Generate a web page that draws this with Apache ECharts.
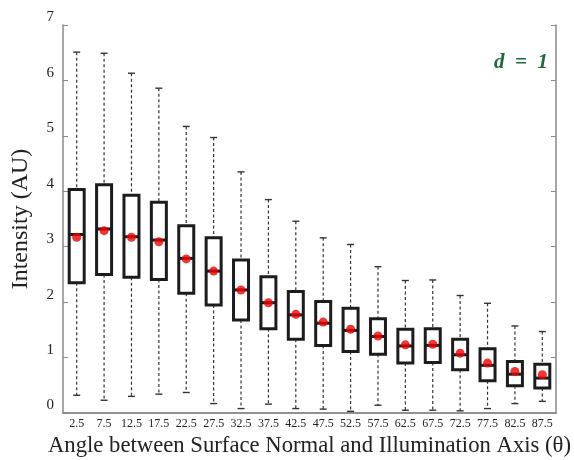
<!DOCTYPE html>
<html>
<head>
<meta charset="utf-8">
<script src="https://cdn.jsdelivr.net/npm/echarts@6/dist/echarts.min.js"></script>
<style>
  html, body { margin: 0; padding: 0; background: #fff; }
  #main { width: 574px; height: 460px; }
</style>
</head>
<body>
<div id="main"></div>
<script>
// angle bins (degrees)
const categories = ['2.5', '7.5', '12.5', '17.5', '22.5', '27.5', '32.5', '37.5', '42.5',
  '47.5', '52.5', '57.5', '62.5', '67.5', '72.5', '77.5', '82.5', '87.5'];
const whiskerLow = [0.32, 0.23, 0.30, 0.34, 0.37, 0.17, 0.08, 0.16, 0.08,
  0.07, 0.03, 0.14, 0.05, 0.05, 0.04, 0.08, 0.17, 0.21];
const q1 = [2.35, 2.50, 2.45, 2.41, 2.16, 1.95, 1.68, 1.52, 1.33,
  1.22, 1.11, 1.06, 0.90, 0.91, 0.78, 0.58, 0.49, 0.45];
const median = [3.22, 3.32, 3.18, 3.12, 2.79, 2.56, 2.22, 1.99, 1.77,
  1.62, 1.49, 1.38, 1.21, 1.22, 1.05, 0.86, 0.70, 0.63];
const q3 = [4.03, 4.12, 3.93, 3.80, 3.38, 3.16, 2.76, 2.46, 2.19,
  2.01, 1.89, 1.70, 1.51, 1.52, 1.33, 1.16, 0.93, 0.88];
const whiskerHigh = [6.51, 6.49, 6.13, 5.86, 5.17, 4.97, 4.35, 3.85, 3.46,
  3.16, 3.04, 2.64, 2.39, 2.40, 2.12, 1.98, 1.57, 1.47];
const means = [3.17, 3.29, 3.17, 3.09, 2.78, 2.56, 2.22, 1.99, 1.78,
  1.64, 1.51, 1.39, 1.23, 1.24, 1.08, 0.90, 0.75, 0.69];
const yTicks = [0, 1, 2, 3, 4, 5, 6, 7];

const serif = '"Liberation Serif", "DejaVu Serif", serif';
const axisGray = '#8a8a8a';

const boxData = categories.map((c, i) =>
  [i, whiskerLow[i], q1[i], median[i], q3[i], whiskerHigh[i]]);
const meanData = categories.map((c, i) => [i, means[i]]);

const renderBox = (params, api) => {
  const idx = api.value(0);
  const pLow = api.coord([idx, api.value(1)]);
  const pQ1 = api.coord([idx, api.value(2)]);
  const pMed = api.coord([idx, api.value(3)]);
  const pQ3 = api.coord([idx, api.value(4)]);
  const pHigh = api.coord([idx, api.value(5)]);
  const x = pMed[0];
  const half = 7.5;
  const cap = 3.5;
  const dash = { stroke: '#333', lineWidth: 1.2, lineDash: [3, 2.5] };
  const capStyle = { stroke: '#333', lineWidth: 1.4 };
  return {
    type: 'group',
    children: [
      { type: 'line', shape: { x1: x, y1: pHigh[1], x2: x, y2: pQ3[1] }, style: dash },
      { type: 'line', shape: { x1: x, y1: pQ1[1], x2: x, y2: pLow[1] }, style: dash },
      { type: 'line', shape: { x1: x - cap, y1: pHigh[1], x2: x + cap, y2: pHigh[1] }, style: capStyle },
      { type: 'line', shape: { x1: x - cap, y1: pLow[1], x2: x + cap, y2: pLow[1] }, style: capStyle },
      {
        type: 'rect',
        shape: { x: x - half, y: pQ3[1], width: half * 2, height: pQ1[1] - pQ3[1] },
        style: { fill: '#fff', stroke: '#1c1c1c', lineWidth: 3 },
      },
      {
        type: 'line',
        shape: { x1: x - half, y1: pMed[1], x2: x + half, y2: pMed[1] },
        style: { stroke: '#1c1c1c', lineWidth: 3 },
      },
    ],
  };
};

const chart = echarts.init(document.getElementById('main'));
chart.setOption({
  animation: false,
  backgroundColor: '#fff',
  grid: { left: 63, right: 18, top: 25, bottom: 47, outerBoundsMode: 'none', containLabel: false },
  xAxis: [
    {
      type: 'category',
      data: categories,
      position: 'bottom',
      axisLine: { lineStyle: { color: axisGray, width: 1.5 } },
      axisTick: { inside: true, alignWithLabel: true, length: 5, lineStyle: { color: axisGray } },
      axisLabel: { color: '#222', fontFamily: serif, fontSize: 12, margin: 5, interval: 0 },
      splitLine: { show: false },
      name: 'Angle between Surface Normal and Illumination Axis (θ)',
      nameLocation: 'middle',
      nameGap: 21,
      nameTextStyle: { color: '#222', fontFamily: serif, fontSize: 22.7 },
    },
    {
      type: 'category',
      data: categories,
      position: 'top',
      axisLine: { lineStyle: { color: axisGray, width: 1.5 } },
      axisTick: { inside: true, alignWithLabel: true, length: 5, lineStyle: { color: axisGray } },
      axisLabel: { show: false },
    },
  ],
  yAxis: [
    {
      type: 'value',
      min: 0,
      max: 7,
      interval: 1,
      position: 'left',
      axisLine: { show: true, lineStyle: { color: axisGray, width: 1.5 } },
      axisTick: { show: true, inside: true, length: 5, lineStyle: { color: axisGray } },
      axisLabel: {
        color: '#222', fontFamily: serif, fontSize: 15, margin: 9, verticalAlign: 'bottom',
        formatter: (v) => (yTicks.indexOf(v) >= 0 ? String(v) : ''),
      },
      splitLine: { show: false },
      name: 'Intensity (AU)',
      nameLocation: 'middle',
      nameGap: 30,
      nameTextStyle: { color: '#222', fontFamily: serif, fontSize: 24 },
    },
    {
      type: 'value',
      min: 0,
      max: 7,
      interval: 1,
      position: 'right',
      axisLine: { show: true, lineStyle: { color: axisGray, width: 1.5 } },
      axisTick: { show: true, inside: true, length: 5, lineStyle: { color: axisGray } },
      axisLabel: { show: false },
      splitLine: { show: false },
    },
  ],
  graphic: [
    {
      type: 'text',
      right: 26,
      top: 52,
      style: {
        text: 'd  =  1',
        fill: '#1d6b3b',
        font: 'italic bold 21px ' + serif,
      },
    },
  ],
  series: [
    {
      type: 'custom',
      renderItem: renderBox,
      data: boxData,
      encode: { x: 0, y: [1, 2, 3, 4, 5] },
      z: 2,
    },
    {
      type: 'scatter',
      data: meanData,
      symbol: 'circle',
      symbolSize: 9,
      itemStyle: { color: '#f20000' },
      z: 3,
    },
  ],
});
</script>
</body>
</html>
